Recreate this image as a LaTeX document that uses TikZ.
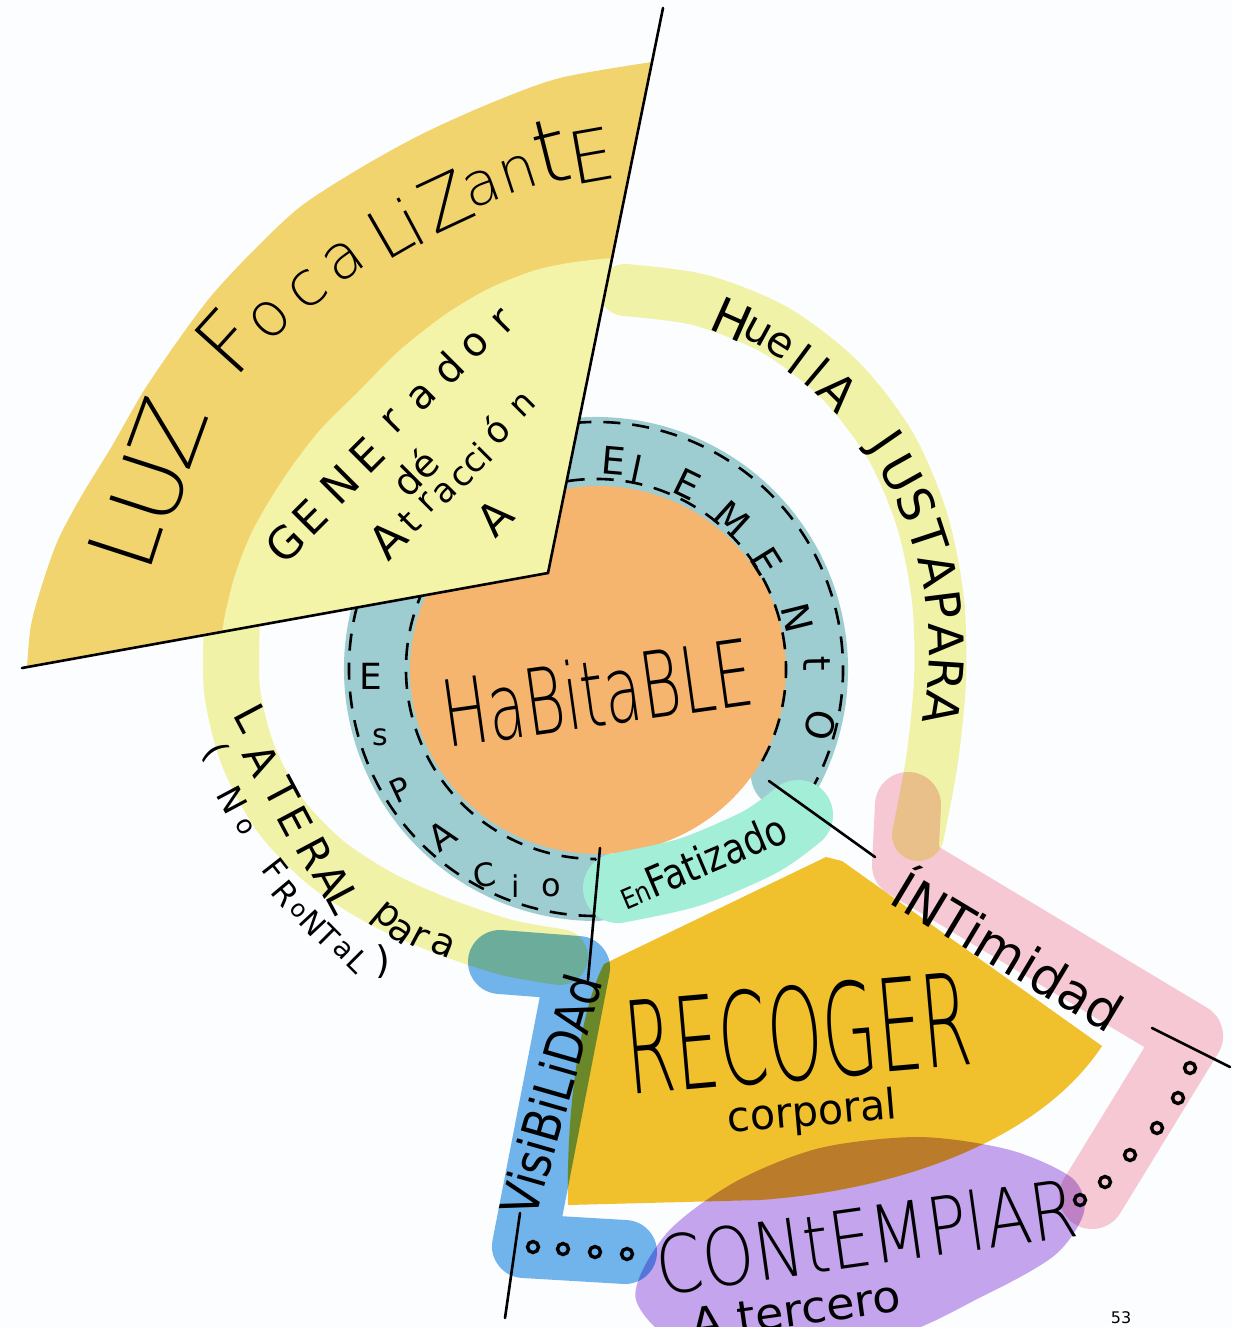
\documentclass[tikz,border=0pt]{standalone}
\usepackage{fontspec}
\setmainfont{DejaVu Sans}
\IfFontExistsTF{DejaVu Sans ExtraLight}
  {\newfontfamily\hand{DejaVu Sans ExtraLight}}
  {\newfontfamily\hand{DejaVu Sans}}
\newfontfamily\handsmall{DejaVu Sans}

\definecolor{bgcol}{HTML}{FCFDFE}
\definecolor{luzcol}{HTML}{F2D46F}
\definecolor{huellacol}{HTML}{F3F4A8}
\definecolor{espaciocol}{HTML}{9ECDD1}
\definecolor{habcol}{HTML}{F5B56E}
\definecolor{enfcol}{HTML}{A3EED7}
\definecolor{recogercol}{HTML}{F3C22E}
\definecolor{viscol}{HTML}{72B6EC}
\definecolor{intcol}{HTML}{F8CAD4}
\definecolor{contcol}{HTML}{C6A6EE}

\tikzset{
  band/.style={line width=#1, line cap=round, line join=round},
  pen/.style={line width=2.6pt, black, line cap=round},
  dashpen/.style={line width=2.6pt, black, dash pattern=on 17pt off 12pt},
  hw/.style={inner sep=0pt, text=black, font=\hand\fontsize{#1}{#1}\selectfont},
  hws/.style={inner sep=0pt, text=black, font=\handsmall\fontsize{#1}{#1}\selectfont},
  inkdot/.style={circle, draw=black, line width=3.4pt, minimum size=11pt, inner sep=0pt}
}

\begin{document}
\begin{tikzpicture}[x=1pt,y=-1pt]
\useasboundingbox (0,0) rectangle (1232,1327);
\fill[bgcol] (0,0) rectangle (1232,1327);

% marker bands, the overlaps mix like ink
\begin{scope}[blend mode=multiply]
  \draw[huellacol, band=52pt] plot[smooth] coordinates {(625,290) (700,300) (775,330) (840,380) (890,445) (922,520) (938,600) (940,680) (932,760) (918,835)};
  \draw[huellacol, band=56pt] plot[smooth] coordinates {(232,620) (232,690) (248,755) (280,815) (325,862) (380,898) (440,925) (505,947) (560,957)};
  \draw[viscol, band=64pt] (500,962) -- (578,968) -- (524,1246) -- (625,1252);
  \draw[intcol, band=66pt] (908,805) -- (905,865) -- (1190,1036) -- (1092,1196);
  \fill[recogercol] (604,964) -- (826,857) -- (842,861) -- (1102,1046) .. controls (1040,1140) and (900,1190) .. (760,1200) -- (568,1205) .. controls (566,1110) and (580,1010) .. (604,964) -- cycle;
  \fill[contcol] plot[smooth cycle] coordinates {(636,1300) (666,1234) (735,1182) (820,1148) (920,1137) (1010,1150) (1072,1178) (1084,1212) (1055,1255) (985,1295) (880,1340) (700,1350)};
\end{scope}

% espacio ring and habitable core
\draw[espaciocol, band=70pt] (596,669) ++(29:217) arc[start angle=29, end angle=-270, radius=217];
\fill[habcol] (598,670) ellipse[x radius=188, y radius=184];
\draw[dashpen] (596,669) ++(29:190) arc[start angle=29, end angle=-270, radius=190];
\draw[dashpen] (596,669) ++(30:247) arc[start angle=30, end angle=-270, radius=247];
\draw[dashpen] (596,859) -- (596,916);
\draw[enfcol, band=70pt] plot[smooth] coordinates {(618,888) (690,872) (760,842) (798,815)};

% luz sector
\coordinate (apex) at (548,573);
\coordinate (luztop) at (663,8);
\coordinate (luzleft) at (22,668);
\fill[luzcol] (apex) -- (652,62) -- plot[smooth] coordinates {(652,62) (560,78) (491,103) (420,135) (357,170) (300,207) (254,250) (212,295) (179,339) (143,392) (112,446) (82,495) (58,540) (42,585) (31,625) (27,667)} -- cycle;
\fill[huellacol] (apex) -- (612,258) -- plot[smooth] coordinates {(612,258) (575,262) (536,270) (490,288) (446,314) (400,350) (357,393) (320,430) (290,469) (268,503) (250,536) (235,575) (226,610) (222,633)} -- cycle;
\draw[pen] (luztop) -- (apex) -- (luzleft);

% thin dividing strokes
\coordinate (elemend) at (769,781);
\coordinate (intstart) at (875,857);
\coordinate (ciotop) at (600,848);
\coordinate (ciobot) at (588,980);
\coordinate (visbot) at (520,1213);
\coordinate (visend) at (505,1318);
\coordinate (intend) at (1152,1028);
\coordinate (intout) at (1230,1067);
\draw[pen] (elemend) -- (intstart);
\draw[pen] (ciotop) -- (ciobot);
\draw[pen] (visbot) -- (visend);
\draw[pen] (intend) -- (intout);

% dots
\foreach \x/\y [count=\i] in {533/1247,563/1249,595/1252,627/1254}
  \node[inkdot] (vdot\i) at (\x,\y) {};
\foreach \x/\y [count=\i] in {1190/1068,1178/1098,1157/1128,1130/1155,1105/1182,1080/1200}
  \node[inkdot] (idot\i) at (\x,\y) {};

% LUZ FocaLiZantE
\foreach \x/\y/\r/\s/\c [count=\i] in {125/541/72/92/L,150/488/72/92/U,168/432/70/92/Z,
    228/341/48/86/F,270/319/45/62/o,308/290/40/62/c,344/261/36/62/a,
    390/232/30/68/L,411/221/28/68/i,446/201/25/72/Z,482/188/20/60/a,518/174/18/60/n,551/152/14/90/t,591/156/10/72/E}
  \node[hw=\s, rotate=\r] (luz\i) at (\x,\y) {\c};

% GENErador dé Atracción A
\foreach \x/\y/\s/\c [count=\i] in {285/543/44/G,310/517/44/E,340/485/44/N,367/455/44/E,393/422/40/r,422/397/40/a,448/368/40/d,475/345/40/o,503/322/40/r}
  \node[hws=\s, rotate=45] (gen\i) at (\x,\y) {\c};
\node[hws=38, rotate=45] (de) at (415,472) {dé};
\foreach \x/\y/\s/\c [count=\i] in {388/540/46/A,410/522/36/t,428/503/34/r,445/493/34/a,463/477/34/c,475/463/34/c,483/452/34/i,495/430/36/ó,523/405/34/n}
  \node[hws=\s, rotate=45] (atr\i) at (\x,\y) {\c};
\node[hws=44, rotate=45] (atrA) at (495,518) {A};

% Huella JUSTAPARA
\foreach \a/\s/\c [count=\i] in {66/50/H,61.5/42/u,57.5/42/e,53.5/46/l,50/46/l,45.5/48/A,
    34.7/48/J,29.2/48/U,23.7/48/S,18.2/48/T,12.7/48/A,7.2/48/P,1.7/48/A,-3.8/48/R,-9.3/48/A}
  \node[hws=\s, rotate={\a-90}] (hue\i) at ({585+362*cos(\a)},{650-362*sin(\a)}) {\c};

% ElEMENtO
\foreach \x/\y/\r/\c [count=\i] in {614/461/-5/E,637/469/-12/l,687/484/-26/E,732/519/-42/M,767/561/-58/E,797/618/-76/N,817/664/-89/t,820/725/-104/O}
  \node[hws=38, rotate=\r] (ele\i) at (\x,\y) {\c};

% EsPACio
\foreach \x/\y/\r/\s/\c [count=\i] in {371/676/0/36/E,380/737/0/30/s,400/790/25/32/P,442/836/35/36/A,484/875/10/32/C,516/886/0/30/i,551/888/0/32/o}
  \node[hws=\s, rotate=\r] (esp\i) at (\x,\y) {\c};

% LATERAL para (No FRONTAL)
\foreach \x/\y/\c [count=\i] in {252/718/L,262/760/A,282/793/T,295/821/E,315/853/R,332/880/A,344/900/L}
  \node[hws=42, rotate=-62] (lat\i) at (\x,\y) {\c};
\foreach \x/\y/\r/\c [count=\i] in {385/918/-40/p,401/932/-35/a,419/938/-28/r,443/945/-22/a}
  \node[hws=38, rotate=\r] (para\i) at (\x,\y) {\c};
\foreach \x/\y/\r/\s/\c [count=\i] in {215/752/-60/34/(,232/800/-62/34/N,245/827/-60/26/o,275/870/-52/32/F,286/894/-50/32/R,298/911/-48/24/o,313/923/-47/30/N,328/936/-45/30/T,343/950/-45/28/a,358/962/-45/30/L,383/962/0/38/)}
  \node[hws=\s, rotate=\r] (nof\i) at (\x,\y) {\c};

% words
\node[hw=92, rotate=8] (habitable) at (597,692) {\scalebox{0.66}[1]{HaBitaBLE}};
\node[hws=42, rotate=23] (enfatizado) at (702,861) {\scalebox{0.85}[1]{{\fontsize{28}{28}\selectfont En}Fatizado}};
\node[hw=128, rotate=5] (recoger) at (798,1033) {\scalebox{0.55}[1]{RECOGER}};
\node[hws=42, rotate=5] (corporal) at (812,1114) {\scalebox{0.98}[1]{corporal}};
\node[hws=52, rotate=74] (visibilidad) at (551,1095) {\scalebox{0.85}[1]{VisiBiLiDAd}};
\node[hws=52, rotate=-31] (intimidad) at (1010,948) {\scalebox{0.98}[1]{ÍNTimidad}};
\node[hw=80, rotate=8] (contemplar) at (866,1236) {\scalebox{0.83}[1]{CONtEMPlAR}};
\node[hws=44, rotate=8] (tercero) at (796,1310) {\scalebox{1.05}[1]{A tercero}};
\node[hws=16] (pagina) at (1121,1318) {53};

\end{tikzpicture}
\end{document}
